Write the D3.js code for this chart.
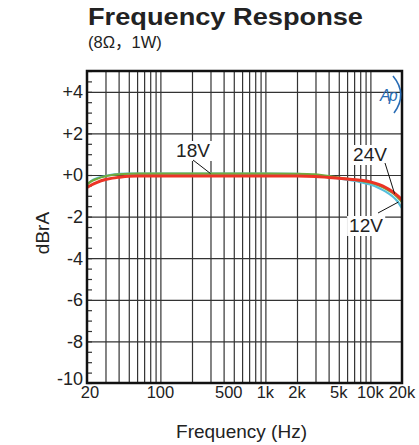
<!DOCTYPE html>
<html>
<head>
<meta charset="utf-8">
<script src="https://cdn.jsdelivr.net/npm/d3@7"></script>
<style>
  body { margin: 0; background: #fff; }
  svg { font-family: "Liberation Sans", Arial, Helvetica, sans-serif; }
  .grid line { stroke: #333; stroke-width: 1.2; }
  .grid path { display: none; }
</style>
</head>
<body>
<div id="chart"></div>
<script>
// data
var freqs = [20, 22, 25, 30, 35, 40, 50, 60, 80, 100, 200, 500, 1000, 2000, 3000, 4000, 5000, 6000, 8000, 10000, 12000, 14000, 16000, 18000, 20000];
var v24 = [-0.6, -0.48, -0.35, -0.22, -0.15, -0.11, -0.06, -0.05, -0.05, -0.05, -0.05, -0.05, -0.05, -0.05, -0.07, -0.12, -0.16, -0.19, -0.25, -0.33, -0.45, -0.6, -0.78, -0.98, -1.2];
var v18 = [-0.45, -0.3, -0.18, -0.06, 0.0, 0.03, 0.06, 0.07, 0.07, 0.07, 0.07, 0.07, 0.07, 0.06, 0.03, -0.05, -0.12, -0.18, -0.27, -0.37, -0.5, -0.66, -0.84, -1.05, -1.3];
var v12 = [-0.45, -0.28, -0.15, -0.05, 0.02, 0.05, 0.07, 0.07, 0.07, 0.07, 0.07, 0.07, 0.07, 0.05, 0.0, -0.08, -0.16, -0.23, -0.34, -0.46, -0.62, -0.8, -1.0, -1.25, -1.6];
var xTicks = [20, 100, 500, 1000, 2000, 5000, 10000, 20000];
var xTickLabels = ["20", "100", "500", "1k", "2k", "5k", "10k", "20k"];
var yTicks = [-10, -8, -6, -4, -2, 0, 2, 4];
var yTickLabels = ["-10", "-8", "-6", "-4", "-2", "+0", "+2", "+4"];

var W = 419, H = 445;
var margin = {left: 87, right: 17, top: 71, bottom: 62};
var width = W - margin.left - margin.right,
    height = H - margin.top - margin.bottom;

var svg = d3.select("#chart").append("svg")
    .attr("width", W)
    .attr("height", H);

var x = d3.scaleLog().domain([20, 20000]).range([0, width]);
var y = d3.scaleLinear().domain([-10, 5]).range([height, 0]);

var g = svg.append("g")
    .attr("transform", "translate(" + margin.left + "," + margin.top + ")");

// log grid lines 20..20k
var gridX = [];
[10, 100, 1000, 10000].forEach(function(d) {
    for (var k = 1; k < 10; k++) {
        var f = d * k;
        if (f > 20 && f < 20000) gridX.push(f);
    }
});

g.append("g")
    .attr("class", "grid")
    .attr("transform", "translate(0," + height + ")")
    .call(d3.axisBottom(x).tickValues(gridX).tickSize(-height).tickFormat(""));

g.append("g")
    .attr("class", "grid")
    .call(d3.axisLeft(y).tickValues(yTicks.slice(1)).tickSize(-width).tickFormat(""));

// minor ticks on the left, inside
var minor = d3.range(-10, 5.01, 0.5);
g.append("g")
    .attr("class", "grid")
    .call(d3.axisRight(y).tickValues(minor).tickSize(5).tickFormat(""));

// curves
var line = d3.line()
    .x(function(d) { return x(d[0]); })
    .y(function(d) { return y(d[1]); })
    .curve(d3.curveMonotoneX);

var series = [
    {name: "12V", vals: v12, color: "#56bfdc", w: 2.2},
    {name: "18V", vals: v18, color: "#72ab3c", w: 2.2},
    {name: "24V", vals: v24, color: "#ec3426", w: 3}
];

series.forEach(function(s) {
    g.append("path")
        .datum(freqs.map(function(f, i) { return [f, s.vals[i]]; }))
        .attr("fill", "none")
        .attr("stroke", s.color)
        .attr("stroke-width", s.w)
        .attr("stroke-linejoin", "round")
        .attr("d", line);
});

// labels with leaders
function label(txt, f, db, tx, ty, lx1, ly1) {
    var px = x(f), py = y(db);
    var t = g.append("text")
        .attr("x", tx).attr("y", ty)
        .attr("text-anchor", "middle")
        .attr("font-size", 19)
        .attr("fill", "#222")
        .text(txt);
    var bb = t.node().getBBox();
    g.insert("rect", function() { return t.node(); })
        .attr("x", bb.x - 2).attr("y", bb.y + 1)
        .attr("width", bb.width + 4).attr("height", bb.height - 1)
        .attr("fill", "#fff");
    g.append("line")
        .attr("x1", lx1).attr("y1", ly1)
        .attr("x2", px).attr("y2", py)
        .attr("stroke", "#111").attr("stroke-width", 1);
}
label("18V", 300, 0.07, 106, 86, 106, 89);
label("24V", 17000, -0.9, 283, 90, 298, 92);
label("12V", 18500, -1.3, 279, 161, 291, 142);

// frame
g.append("rect")
    .attr("width", width).attr("height", height)
    .attr("fill", "none").attr("stroke", "#111").attr("stroke-width", 2.5);

// tick labels
g.append("g").selectAll("text")
    .data(yTicks)
    .enter().append("text")
    .attr("x", -4)
    .attr("y", function(d) { return y(d); })
    .attr("dy", function(d) { return d === -10 ? "0.1em" : "0.36em"; })
    .attr("text-anchor", "end")
    .attr("font-size", 18)
    .attr("fill", "#222")
    .text(function(d, i) { return yTickLabels[i]; });

g.append("g").selectAll("text")
    .data(xTicks)
    .enter().append("text")
    .attr("x", function(d) { return x(d); })
    .attr("dx", function(d) { return d === 500 ? -5 : (d === 20 ? 3 : 0); })
    .attr("y", height + 15)
    .attr("text-anchor", "middle")
    .attr("font-size", 16.5)
    .attr("fill", "#222")
    .text(function(d, i) { return xTickLabels[i]; });

// axis titles
svg.append("text")
    .attr("x", margin.left + width / 2 - 3)
    .attr("y", 438)
    .attr("text-anchor", "middle")
    .attr("font-size", 19)
    .attr("fill", "#222")
    .text("Frequency (Hz)");

svg.append("text")
    .attr("transform", "translate(49,233) rotate(-90)")
    .attr("text-anchor", "middle")
    .attr("font-size", 19)
    .attr("fill", "#222")
    .text("dBrA");

// title
svg.append("text")
    .attr("x", 88).attr("y", 25)
    .attr("font-size", 23)
    .attr("font-weight", "bold")
    .attr("fill", "#222")
    .attr("textLength", 275)
    .attr("lengthAdjust", "spacingAndGlyphs")
    .text("Frequency Response");

var sub = svg.append("text")
    .attr("x", 88).attr("y", 48)
    .attr("font-size", 16.5)
    .attr("fill", "#222");
sub.append("tspan").text("(8Ω");
sub.append("tspan").attr("font-family", "'Noto Sans CJK SC'").text("，");
sub.append("tspan").text("1W)");

// Ap logo
var logo = svg.append("g");
logo.append("text")
    .attr("x", 380).attr("y", 101)
    .attr("font-size", 16)
    .attr("font-style", "italic")
    .attr("letter-spacing", -2)
    .attr("fill", "#2a6db5")
    .text("Ap");
logo.append("path")
    .attr("d", "M393,76 Q408,94 394,113")
    .attr("fill", "none")
    .attr("stroke", "#2a6db5")
    .attr("stroke-width", 1.6);
</script>
</body>
</html>
